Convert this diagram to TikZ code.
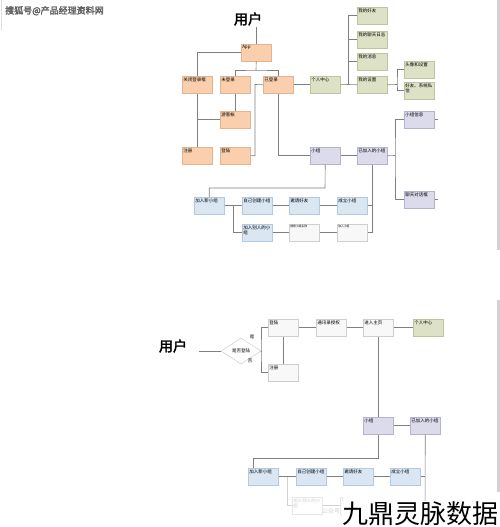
\documentclass[tikz,border=0pt]{standalone}
\usepackage{fontspec}
\setmainfont{Noto Sans CJK SC}
\newfontfamily\titlefont[FakeBold=2.5]{Noto Sans CJK SC}
\usetikzlibrary{shapes.geometric,calc}
\XeTeXlinebreaklocale "zh"
\XeTeXlinebreakskip=0pt plus 1pt
\definecolor{orf}{HTML}{F9CFAE}\definecolor{ord}{HTML}{E3B48E}
\definecolor{grf}{HTML}{DDE2C6}\definecolor{grd}{HTML}{BCC59C}
\definecolor{puf}{HTML}{DCDBEC}\definecolor{pud}{HTML}{B5B3CF}
\definecolor{blf}{HTML}{DAE7F2}\definecolor{bld}{HTML}{B3CBE0}
\definecolor{whf}{HTML}{F8F8F8}\definecolor{whd}{HTML}{CFCFCF}
\definecolor{ln}{HTML}{808080}
\newcommand{\bt}[1]{\parbox[t][15pt][t]{28pt}{\raggedright #1}}
\tikzset{
  base/.style={rectangle, inner sep=1pt, anchor=north west, line width=0.5pt, font=\fontsize{4.5}{5.2}\selectfont},
  ob/.style={base, fill=orf, draw=ord},
  gb/.style={base, fill=grf, draw=grd},
  pb/.style={base, fill=puf, draw=pud},
  bb/.style={base, fill=blf, draw=bld},
  wb/.style={base, fill=whf, draw=whd},
  fb/.style={base, fill=white, draw=whd!50, text=gray!40},
  conn/.style={draw=ln, line width=0.6pt},
  ttl/.style={font=\titlefont\fontsize{14}{14}\selectfont, inner sep=1pt},
}
\begin{document}
\begin{tikzpicture}[x=1pt,y=-1pt]
\useasboundingbox (0,0) rectangle (500,527);
\fill[white] (0,0) rectangle (500,527);
% right page edge
\fill[gray!35] (497,0) rectangle (500,250);
\fill[gray!35] (497,300) rectangle (500,492);
\draw[gray!25, line width=0.8pt] (1,0) -- (1,30);
% watermark
\node[anchor=north west, text=gray!75!black, font=\titlefont\fontsize{9}{9}\selectfont, inner sep=0pt] (wm1) at (5,6) {搜狐号@产品经理资料网};

% ===== top diagram =====
\node[ttl] (u1) at (248,19) {用户};
\node[ob] (app) at (241,44) {\bt{App}};
\node[ob] (gbk) at (182,76) {\bt{关闭登录框}};
\node[ob] (wdl) at (220,76) {\bt{未登录}};
\node[ob] (ydl) at (263,76) {\bt{已登录}};
\node[gb] (grzx) at (310,76) {\bt{个人中心}};
\node[ob] (ykz) at (220,111) {\bt{游客帐}};
\node[ob] (zc) at (182,147) {\bt{注册}};
\node[ob] (dl) at (220,147) {\bt{登陆}};
\node[pb] (xz) at (310,147) {\bt{小组}};
\node[pb] (yjr) at (357,147) {\bt{已加入的小组}};
\node[pb] (xzxx) at (404,111) {\bt{小组信息}};
\node[pb] (ltk) at (404,191) {\bt{聊天对话框}};
\node[bb] (jrx) at (194,197) {\bt{加入新小组}};
\node[bb] (zjcj) at (242,197) {\bt{自己创建小组}};
\node[bb] (yqhy) at (289,197) {\bt{邀请好友}};
\node[bb] (clxz) at (337,197) {\bt{成立小组}};
\node[bb] (jrbr) at (242,224) {\bt{加入别人的小组}};
\node[wb, font=\fontsize{2.8}{3.2}\selectfont] (w1) at (289,224) {\parbox[t][15pt][t]{28pt}{\raggedright 搜索小组名称}};
\node[wb, font=\fontsize{2.8}{3.2}\selectfont] (w2) at (337,224) {\parbox[t][15pt][t]{28pt}{\raggedright 加入小组}};
\node[gb] (wdhy) at (357,7) {\bt{我的好友}};
\node[gb] (wdlt) at (357,31) {\bt{我的聊天日志}};
\node[gb] (wdxx) at (357,53) {\bt{我的消息}};
\node[gb] (wdsz) at (357,76) {\bt{我的设置}};
\node[gb] (txsz) at (404,61) {\bt{头像和设置}};
\node[gb] (hyxx) at (404,82) {\bt{好友、系统私信}};

\coordinate (j1) at (256,70);
\coordinate (j2) at (395,155.5);
\coordinate (j3) at (325,188);
\coordinate (j4) at (233,205.5);
\coordinate (j5) at (348,84.5);
\coordinate (j6) at (397,84.5);
\coordinate (j7) at (255,84.5);

\draw[conn] (app.north) -- (app.north |- u1.south);
\draw[conn] (app.west) -| (gbk.north);
\draw[conn] (app.south) -- (j1);
\draw[conn] (wdl.north) |- (j1) -| (ydl.north);
\draw[conn] (ydl.east) -- (grzx.west);
\draw[conn] (wdl.south) -- (ykz.north);
\draw[conn] (gbk.south) -- (zc.north);
\draw[conn] (ykz.west) -- (ykz.west -| gbk.south);
\draw[conn] (dl.east) -| (j7) -- (ydl.west);
\draw[conn] (ydl.south) |- (xz.west);
\draw[conn] (xz.east) -- (yjr.west);
\draw[conn] (yjr.east) -- (j2);
\draw[conn] (xzxx.west) -| (j2) |- (ltk.west);
\draw[conn] (xzxx.east) -- ++(3,0);
\draw[conn] (ltk.east) -- ++(3,0);
\draw[conn] (xz.south) -- (j3) -| (jrx.north);
\draw[conn] (jrx.east) -- (zjcj.west);
\draw[conn] (zjcj.east) -- (yqhy.west);
\draw[conn] (yqhy.east) -- (clxz.west);
\draw[conn] (clxz.east) -- (clxz.east -| yjr.south);
\draw[conn] (j4) |- (jrbr.west);
\draw[conn] (jrbr.east) -- (w1.west);
\draw[conn] (w1.east) -- (w2.west);
\draw[conn] (yjr.south) |- (w2.east);
\draw[conn] (grzx.east) -- (j5);
\draw[conn] (wdhy.west) -| (j5);
\draw[conn] (wdlt.west) -| (j5);
\draw[conn] (wdxx.west) -| (j5);
\draw[conn] (wdsz.west) -- (j5);
\draw[conn] (wdsz.east) -- (j6);
\draw[conn] (txsz.west) -| (j6) |- (hyxx.west);

% ===== bottom diagram =====
\node[ttl] (u2) at (173,346) {用户};
\node[diamond, draw=gray!45, aspect=1.6, minimum width=40pt, minimum height=26pt, inner sep=0pt, font=\fontsize{4.5}{5}\selectfont] (dm) at (241,351) {是否登陆};
\node[font=\fontsize{4.5}{5}\selectfont, inner sep=0pt] (yes) at (252,337) {是};
\node[font=\fontsize{4.5}{5}\selectfont, inner sep=0pt] (no) at (250,361) {否};
\node[wb] (dl2) at (268,319) {\bt{登陆}};
\node[wb] (zc2) at (268,364) {\bt{注册}};
\node[wb] (txl) at (316,319) {\bt{通讯录授权}};
\node[wb] (jrzy) at (363,319) {\bt{进入主页}};
\node[gb] (grzx2) at (413,319) {\bt{个人中心}};
\node[pb] (xz2) at (363,417) {\bt{小组}};
\node[pb] (yjr2) at (410,417) {\bt{已加入的小组}};
\node[bb] (jrx2) at (248,468) {\bt{加入新小组}};
\node[bb] (zjcj2) at (296,468) {\bt{自己创建小组}};
\node[bb] (yqhy2) at (343,468) {\bt{邀请好友}};
\node[bb] (clxz2) at (390,468) {\bt{成立小组}};
\node[fb] (jrbr2) at (292,497) {\bt{加入别人的小组}};
\node[fb] (w3) at (340,497) {\bt{}};

\coordinate (k1) at (261,351);
\coordinate (k2) at (378,458);
\coordinate (k3) at (253,458);
\coordinate (k4) at (287,477);
\coordinate (k5) at (425,527);

\draw[conn] (dm.west) -- ++(-22,0);
\draw[conn] (dm.east) -- (k1);
\draw[conn] (dl2.west) -| (k1) |- (zc2.west);
\draw[conn] (zc2.north) -- (dl2.south);
\draw[conn] (dl2.east) -- (txl.west);
\draw[conn] (txl.east) -- (jrzy.west);
\draw[conn] (jrzy.east) -- (grzx2.west);
\draw[conn] (jrzy.south) -- (xz2.north);
\draw[conn] (xz2.east) -- (yjr2.west);
\draw[conn] (xz2.south) |- (k3) -- (k3 |- jrx2.north);
\draw[conn] (jrx2.east) -- (zjcj2.west);
\draw[conn] (zjcj2.east) -- (yqhy2.west);
\draw[conn] (yqhy2.east) -- (clxz2.west);
\draw[conn] (clxz2.east) -- (clxz2.east -| k5);
\draw[conn] (yjr2.south) -- (k5);
\draw[conn, draw=gray!35] (k4) |- (jrbr2.west);
\draw[conn, draw=gray!35] (jrbr2.east) -- (w3.west);

\node[text=gray!35, font=\fontsize{6}{6}\selectfont, inner sep=0pt] (gzh) at (331,511) {公众号};
\node[anchor=south east, fill=white, inner sep=1pt, font=\fontsize{26}{26}\selectfont] (wm2) at (500,527) {九鼎灵脉数据};
\end{tikzpicture}
\end{document}
